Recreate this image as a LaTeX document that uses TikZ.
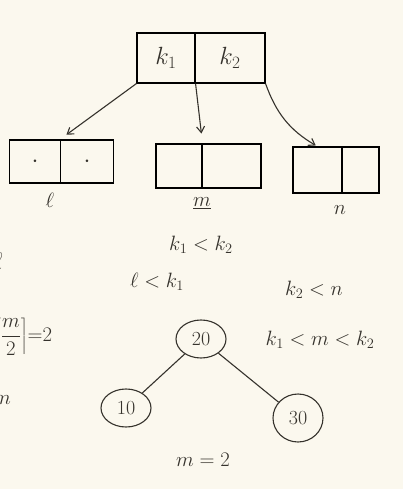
\documentclass[tikz,border=0pt]{standalone}
\usetikzlibrary{shapes.geometric, arrows.meta}
\definecolor{board}{HTML}{FBF8EE}
\definecolor{ink}{HTML}{35322C}
\begin{document}
\begin{tikzpicture}[x=1pt, y=-1pt, color=ink, line width=1.1pt, >={Straight Barb[length=6pt, width=8pt]}]
        \tikzstyle{cell}=[draw, inner sep=0pt, font=\fontsize{24}{26}\selectfont]
        \tikzstyle{key}=[ellipse, draw, minimum width=50pt, minimum height=38pt, inner sep=0pt, font=\fontsize{20}{22}\selectfont]
        \tikzstyle{txt}=[font=\fontsize{22}{24}\selectfont]

        \fill[board] (0,0) rectangle (403,489);
        \useasboundingbox (0,0) rectangle (403,489);

        \matrix (root) at (201,58) [column sep=-\pgflinewidth] {
            \node (k1) [cell, minimum width=58pt, minimum height=50pt] {$k_1$}; &
            \node (k2) [cell, minimum width=70pt, minimum height=50pt] {$k_2$}; \\
        };
        \matrix (lbox) at (61.5,161.5) [column sep=-\pgflinewidth] {
            \node (l1) [cell, minimum width=51pt, minimum height=43pt] {$\cdot$}; &
            \node (l2) [cell, minimum width=53pt, minimum height=43pt] {$\cdot$}; \\
        };
        \matrix (mbox) at (208.5,166) [column sep=-\pgflinewidth] {
            \node (m1) [cell, minimum width=46pt, minimum height=44pt] {}; &
            \node (m2) [cell, minimum width=59pt, minimum height=44pt] {}; \\
        };
        \matrix (nbox) at (336,170) [column sep=-\pgflinewidth] {
            \node (n1) [cell, minimum width=49pt, minimum height=46pt] {}; &
            \node (n2) [cell, minimum width=37pt, minimum height=46pt] {}; \\
        };

        \node (lname) [txt] at (50,200) {$\ell$};
        \node (mname) [txt] at (202,203) {$\underline{m}$};
        \node (nname) [txt] at (340,210) {$n$};

        \path[->]   (k1.south west) edge [shorten >=8pt] (l2.north west)
                    (k1.south east) edge [shorten >=10pt] (m1.north east)
                    (k2.south east) edge [bend right=20, shorten >=2pt] (n1.north);

        % order of the keys
        \node (kk)  [font=\fontsize{20}{22}\selectfont] at (201,245) {$k_1<k_2$};
        \node (lk)  [txt] at (157,282) {$\ell<k_1$};
        \node (kn)  [txt] at (314,290) {$k_2<n$};
        \node (kmk) [txt] at (320,340) {$k_1<m<k_2$};

        % left edge, cut off
        \node (lcut) [font=\fontsize{34}{36}\selectfont] at (-2.5,262) {$\ell$};
        \node (ceil) [txt, anchor=east] at (56,337) {$\displaystyle\left\lceil\frac{m}{2}\right\rceil\!{=}2$};
        \node (mcut) [txt] at (2,400) {$m$};

        % tree with m=2
        \node (t20) [key] at (201,339) {20};
        \node (t10) [key] at (126,408) {10};
        \node (t30) [key, minimum height=48pt] at (298,418) {30};
        \draw (t20) -- (t10);
        \draw (t20) -- (t30);
        \node (morder) [txt] at (203,460) {$m=2$};
    \end{tikzpicture}
\end{document}
